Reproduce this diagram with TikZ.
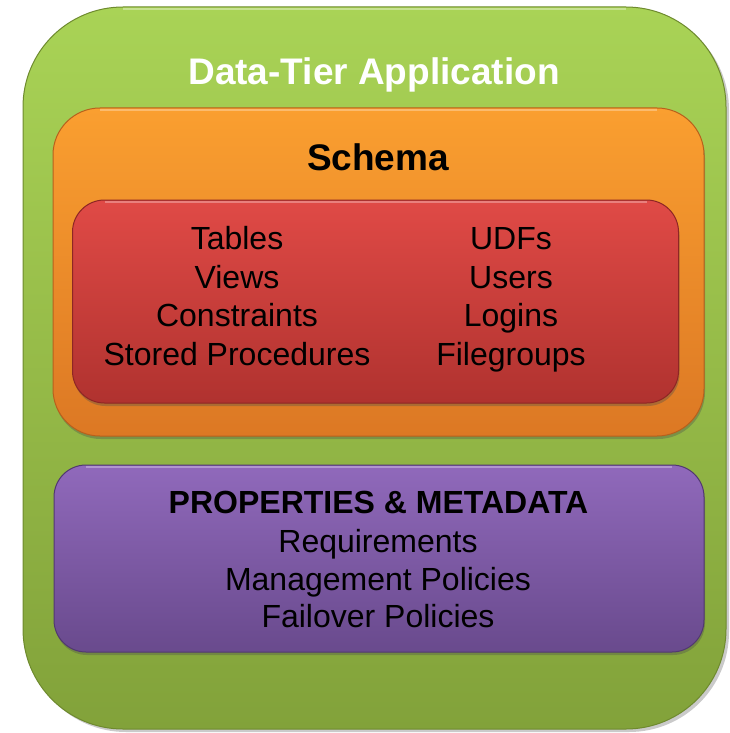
\documentclass[tikz,border=0pt]{standalone}
\usepackage{fontspec}
\setmainfont{Liberation Sans}
\usetikzlibrary{shadows}
\definecolor{gTop}{HTML}{A9D356}
\definecolor{gBot}{HTML}{82A23A}
\definecolor{gEdge}{HTML}{6E8A2E}
\definecolor{oTop}{HTML}{FA9F30}
\definecolor{oBot}{HTML}{DC7824}
\definecolor{oEdge}{HTML}{B8601C}
\definecolor{rTop}{HTML}{E04A46}
\definecolor{rBot}{HTML}{B0322F}
\definecolor{rEdge}{HTML}{8E2624}
\definecolor{pTop}{HTML}{9069BB}
\definecolor{pBot}{HTML}{694A8D}
\definecolor{pEdge}{HTML}{513870}
\tikzset{
  panel/.style={rectangle, inner sep=0pt, outer sep=0pt, line width=1pt},
  greenpanel/.style={panel, rounded corners=100pt, top color=gTop, bottom color=gBot, draw=gEdge,
     drop shadow={shadow xshift=3pt, shadow yshift=-3pt, opacity=0.35, fill=black!60}},
  orangepanel/.style={panel, rounded corners=47pt, top color=oTop, bottom color=oBot, draw=oEdge,
     drop shadow={shadow xshift=1pt, shadow yshift=-3pt, opacity=0.35, fill=black!70}},
  redpanel/.style={panel, rounded corners=32pt, top color=rTop, bottom color=rBot, draw=rEdge,
     drop shadow={shadow xshift=1pt, shadow yshift=-3pt, opacity=0.35, fill=black!70}},
  purplepanel/.style={panel, rounded corners=32pt, top color=pTop, bottom color=pBot, draw=pEdge,
     drop shadow={shadow xshift=1pt, shadow yshift=-3pt, opacity=0.35, fill=black!70}},
  bigtitle/.style={anchor=base, inner sep=0pt, font=\fontsize{37}{44}\selectfont\bfseries},
  item/.style={anchor=base, inner sep=0pt, font=\fontsize{32}{38}\selectfont},
  bolditem/.style={item, font=\fontsize{32}{38}\selectfont\bfseries},
}
\begin{document}
\begin{tikzpicture}[x=1pt,y=-1pt]
\useasboundingbox (0,0) rectangle (729,733);
% panels
\node[greenpanel, minimum width=703pt, minimum height=722pt] (app) at (374.5,368) {};
\node[orangepanel, minimum width=651pt, minimum height=328pt] (schema) at (378.5,272) {};
\node[redpanel, minimum width=606pt, minimum height=203pt] (objects) at (375.5,301.5) {};
\node[purplepanel, minimum width=650pt, minimum height=187pt] (props) at (379,558.5) {};
% highlights
\draw[white, opacity=0.35, line width=1.2pt] ([xshift=100pt,yshift=-2pt]app.north west) -- ([xshift=-100pt,yshift=-2pt]app.north east);
\draw[white, opacity=0.3, line width=1.2pt] ([xshift=47pt,yshift=-2pt]schema.north west) -- ([xshift=-47pt,yshift=-2pt]schema.north east);
\draw[white, opacity=0.3, line width=1.2pt] ([xshift=32pt,yshift=-2pt]objects.north west) -- ([xshift=-32pt,yshift=-2pt]objects.north east);
\draw[white, opacity=0.3, line width=1.2pt] ([xshift=32pt,yshift=-2pt]props.north west) -- ([xshift=-32pt,yshift=-2pt]props.north east);
% texts
\node[bigtitle, text=white] (title) at (374,85) {Data-Tier Application};
\node[bigtitle] (schematitle) at (378,170) {Schema};
\node[item] (tables) at (237,249) {Tables};
\node[item] (views) at (237,288) {Views};
\node[item] (constraints) at (237,326.5) {Constraints};
\node[item] (stored) at (237,365) {Stored Procedures};
\node[item] (udfs) at (511,249) {UDFs};
\node[item] (users) at (511,288) {Users};
\node[item] (logins) at (511,326.5) {Logins};
\node[item] (filegroups) at (511,365) {Filegroups};
\node[bolditem] (proptitle) at (378.5,513) {PROPERTIES \& METADATA};
\node[item] (req) at (378,552) {Requirements};
\node[item] (mgmt) at (378,590) {Management Policies};
\node[item] (failover) at (378,627.5) {Failover Policies};
\end{tikzpicture}
\end{document}
